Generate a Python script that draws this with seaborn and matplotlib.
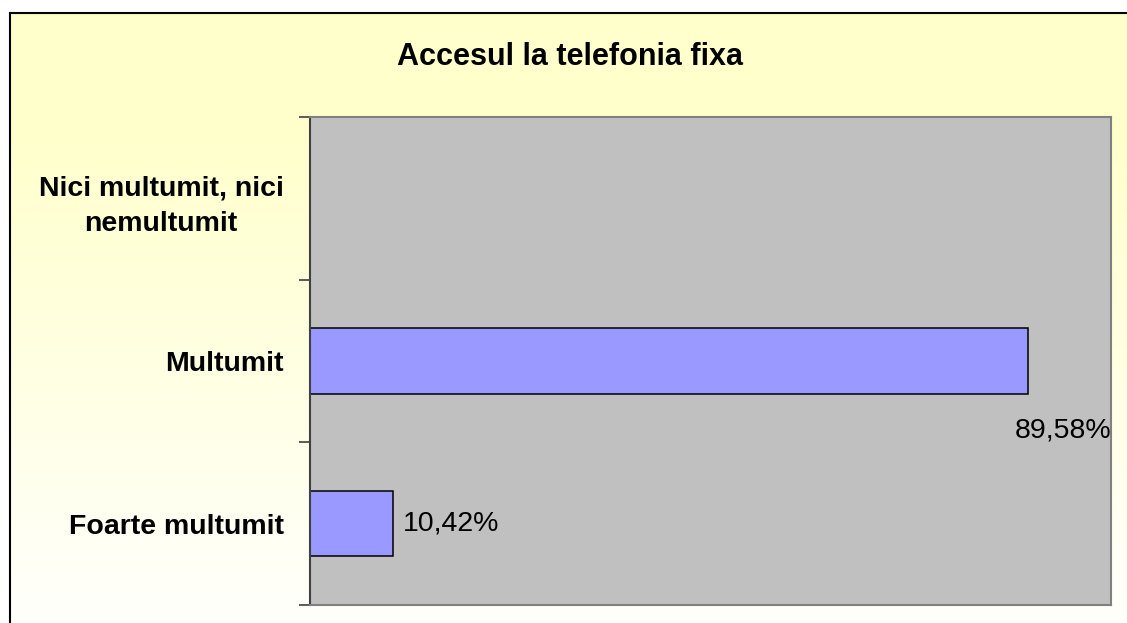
import matplotlib
matplotlib.use("Agg")
import matplotlib.pyplot as plt
import numpy as np
import pandas as pd
import seaborn as sns

# data
categories = ["Nici multumit, nici\nnemultumit", "Multumit", "Foarte multumit"]
percent = [0.0, 89.58, 10.42]
value_labels = ["", "89,58%", "10,42%"]
title = "Accesul la telefonia fixa"

df = pd.DataFrame({"Categorie": categories, "Procent": percent})

sns.set_style("white")
plt.rcParams["font.family"] = ["Liberation Sans", "DejaVu Sans"]
plt.rcParams["text.color"] = "black"
plt.rcParams["ytick.color"] = "black"
plt.rcParams["xtick.color"] = "black"
plt.rcParams["axes.labelcolor"] = "black"

W, H = 1127, 623
fig = plt.figure(figsize=(W / 100, H / 100), dpi=100)
fig.patch.set_facecolor("white")

# yellow-to-white chart area background with a black frame
bg = fig.add_axes([10 / W, 0, 1 - 10 / W, 1 - 13 / H], zorder=-10)
t = np.linspace(0, 1, 256)[:, None]
s = np.clip((t - 0.2) / 0.85, 0, 1)
top = np.array([1.0, 1.0, 0.8])
grad = top * (1 - s)[..., None] + np.ones(3) * s[..., None]
grad = np.repeat(grad, 2, axis=1)
bg.imshow(grad, aspect="auto", extent=[0, 1, 0, 1])
bg.set_xticks([])
bg.set_yticks([])
for side in ["right", "bottom"]:
    bg.spines[side].set_visible(False)
for side in ["left", "top"]:
    bg.spines[side].set_color("black")
    bg.spines[side].set_linewidth(1.5)

ax = fig.add_axes([310 / W, 1 - 605 / H, (1111 - 310) / W, (605 - 117) / H])
ax.set_facecolor("#C0C0C0")

sns.barplot(data=df, x="Procent", y="Categorie", orient="h", color="#9999FF",
            saturation=1, width=0.4, edgecolor="black", linewidth=1.1, ax=ax)

ax.set_xlim(0, 100)
ax.set_ylim(len(categories) - 0.5, -0.5)
ax.set_xlabel("")
ax.set_ylabel("")
ax.set_xticks([])

# category boundaries get the tick marks, labels sit on the centres
ax.set_yticks(range(len(categories)))
ax.set_yticks(np.arange(-0.5, len(categories), 1.0), minor=True)
ax.tick_params(axis="y", which="major", length=0, pad=19, labelcolor="black")
ax.tick_params(axis="y", which="minor", left=True, length=8, width=1.2,
               color="#404040")
for lab in ax.get_yticklabels():
    lab.set_fontsize(20.5)
    lab.set_fontweight("bold")
    lab.set_multialignment("center")
    lab.set_linespacing(1.5)

for side in ["top", "right", "bottom"]:
    ax.spines[side].set_visible(True)
    ax.spines[side].set_color("#808080")
    ax.spines[side].set_linewidth(1.5)
ax.spines["left"].set_color("#404040")
ax.spines["left"].set_linewidth(1.5)

# value labels: outside the bar end, or below it when it would overflow
for i, (v, lab) in enumerate(zip(percent, value_labels)):
    if not lab:
        continue
    if v > 80:
        ax.annotate(lab, xy=(100, i), xytext=(0, -50), textcoords="offset points",
                    ha="right", va="center", fontsize=20.5, color="black")
    else:
        ax.annotate(lab, xy=(v, i), xytext=(7, 0), textcoords="offset points",
                    ha="left", va="center", fontsize=20.5, color="black")

fig.text(570 / W, 1 - 65 / H, title, ha="center", va="baseline",
         fontsize=22, fontweight="bold", color="black")

fig.savefig("out.png", dpi=100)
